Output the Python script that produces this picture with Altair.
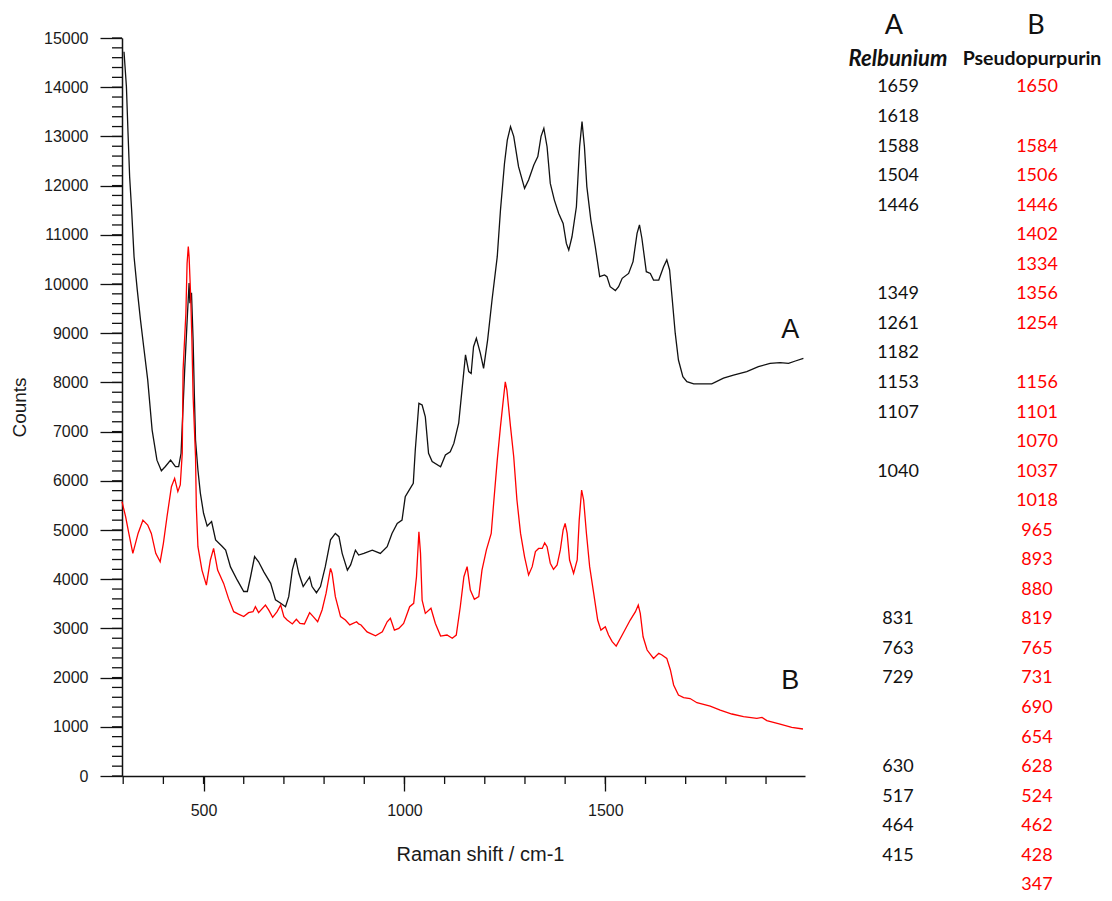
import altair as alt
import pandas as pd

# ---- spectrum A (Relbunium, black) ----
a_shift = [302, 308, 312, 316, 321, 327, 335, 343, 351, 361, 372, 384, 395, 405, 418, 430, 438, 444, 453, 460,
           464, 466, 470, 474, 477, 480, 486, 492, 500, 509, 520, 530, 546, 555, 567, 584, 600, 609, 617, 627,
           637, 650, 667, 679, 692, 704, 712, 721, 729, 737, 748, 764, 770, 781, 791, 803, 816, 828, 837, 845,
           858, 866, 878, 886, 899, 920, 940, 957, 969, 982, 994, 1002, 1011, 1022, 1027, 1036, 1044, 1052, 1060, 1069,
           1090, 1102, 1114, 1123, 1135, 1144, 1152, 1160, 1166, 1172, 1179, 1189, 1197, 1207, 1218, 1231, 1239, 1249, 1256, 1264,
           1272, 1284, 1299, 1309, 1322, 1332, 1340, 1347, 1355, 1363, 1373, 1384, 1395, 1403, 1409, 1417, 1428, 1436, 1442, 1448,
           1454, 1464, 1475, 1486, 1498, 1504, 1512, 1525, 1533, 1542, 1558, 1569, 1579, 1585, 1591, 1602, 1612, 1620, 1633, 1645,
           1653, 1660, 1666, 1674, 1682, 1693, 1703, 1720, 1765, 1794, 1819, 1852, 1881, 1910, 1935, 1956, 1973, 1993]
a_counts = [14720, 14010, 13070, 12180, 11500, 10555, 9880, 9270, 8725, 8050, 7030, 6420, 6205, 6290, 6420, 6290, 6290, 6560, 8250, 9400,
            10020, 9610, 9820, 8860, 7780, 6830, 6220, 5750, 5340, 5080, 5170, 4800, 4670, 4590, 4250, 3980, 3750, 3750, 4050, 4460,
            4355, 4150, 3915, 3580, 3510, 3440, 3645, 4190, 4430, 4120, 3850, 4045, 3850, 3725, 3850, 4255, 4800, 4930, 4865, 4525,
            4185, 4290, 4590, 4490, 4525, 4590, 4525, 4660, 4930, 5135, 5200, 5675, 5800, 5950, 6625, 7575, 7540, 7300, 6560, 6390,
            6285, 6525, 6590, 6760, 7170, 7910, 8560, 8220, 8180, 8725, 8895, 8590, 8285, 8860, 9675, 10555, 11500, 12450, 12925, 13200,
            13000, 12385, 11945, 12115, 12420, 12590, 13000, 13165, 12790, 12045, 11710, 11435, 11230, 10825, 10690, 10960, 11570, 12790, 13300, 12790,
            11980, 11300, 10760, 10150, 10185, 10150, 9945, 9865, 9945, 10115, 10215, 10455, 11030, 11200, 10930, 10250, 10215, 10080, 10080, 10350,
            10490, 10285, 9740, 9000, 8455, 8115, 8015, 7970, 7970, 8085, 8150, 8220, 8320, 8385, 8400, 8385, 8435, 8490]

# ---- spectrum B (Pseudopurpurin, red) ----
b_shift = [297, 306, 314, 324, 337, 349, 361, 370, 381, 392, 400, 409, 420, 428, 436, 442, 447, 449, 456, 459,
           462, 464, 468, 471, 474, 480, 482, 486, 496, 507, 517, 525, 535, 550, 562, 575, 587, 600, 612, 623,
           629, 637, 654, 662, 672, 683, 692, 700, 708, 721, 731, 740, 751, 764, 773, 784, 795, 805, 816, 820,
           828, 841, 853, 864, 881, 886, 892, 907, 928, 945, 957, 965, 975, 986, 998, 1013, 1023, 1030, 1036, 1040,
           1044, 1052, 1066, 1077, 1090, 1106, 1119, 1129, 1139, 1148, 1156, 1164, 1174, 1185, 1193, 1204, 1216, 1222, 1231, 1239,
           1246, 1251, 1255, 1264, 1272, 1280, 1289, 1299, 1309, 1318, 1326, 1334, 1343, 1349, 1355, 1363, 1371, 1380, 1388, 1395,
           1400, 1405, 1411, 1421, 1430, 1435, 1441, 1446, 1453, 1461, 1471, 1481, 1489, 1500, 1508, 1517, 1527, 1542, 1562, 1575,
           1582, 1587, 1594, 1604, 1620, 1633, 1641, 1653, 1662, 1670, 1682, 1695, 1711, 1728, 1761, 1786, 1815, 1844, 1877, 1890,
           1902, 1935, 1964, 1992]
b_counts = [5575, 5270, 4930, 4525, 4930, 5200, 5100, 4930, 4525, 4355, 4730, 5270, 5880, 6050, 5780, 5915, 6560, 8250, 9405, 10420,
            10760, 10555, 9740, 8860, 7710, 6490, 5475, 4660, 4185, 3880, 4390, 4625, 4185, 3915, 3610, 3340, 3290, 3240, 3320, 3340,
            3440, 3320, 3475, 3375, 3225, 3340, 3475, 3240, 3170, 3090, 3185, 3100, 3090, 3320, 3240, 3135, 3375, 3715, 4220, 4120,
            3645, 3240, 3170, 3070, 3135, 3090, 3070, 2930, 2850, 2930, 3135, 3205, 2965, 3000, 3100, 3440, 3510, 4050, 4965, 4525,
            3575, 3305, 3410, 3100, 2845, 2865, 2800, 2865, 3440, 4050, 4255, 3780, 3590, 3645, 4185, 4595, 4930, 5540, 6420, 7100,
            7640, 8010, 7845, 7100, 6490, 5610, 4930, 4455, 4085, 4255, 4560, 4625, 4625, 4740, 4660, 4325, 4200, 4290, 4595, 5000,
            5135, 4930, 4390, 4120, 4390, 5200, 5810, 5610, 4930, 4255, 3715, 3170, 2965, 3035, 2865, 2730, 2640, 2865, 3170, 3340,
            3475, 3305, 2830, 2560, 2390, 2495, 2460, 2390, 2155, 1850, 1645, 1595, 1575, 1490, 1420, 1340, 1260, 1205, 1170, 1190,
            1125, 1055, 990, 955]

# ---- peak table ----
peaks_a = ["1659", "1618", "1588", "1504", "1446", "", "", "1349", "1261", "1182", "1153", "1107", "", "1040",
           "", "", "", "", "831", "763", "729", "", "", "630", "517", "464", "415", ""]
peaks_b = ["1650", "", "1584", "1506", "1446", "1402", "1334", "1356", "1254", "", "1156", "1101", "1070", "1037",
           "1018", "965", "893", "880", "819", "765", "731", "690", "654", "628", "524", "462", "428", "347"]
table_heads = ["A", "B"]
table_subheads = ["Relbunium", "Pseudopurpurin"]

# ---- curve labels ----
curve_labels = ["A", "B"]
label_shift = [1960, 1960]
label_counts = [9065, 1930]

# ---- axes ticks ----
x_major = [500, 1000, 1500]
x_minor = list(range(300, 2000, 100))
y_major = list(range(0, 15001, 1000))
y_minor = list(range(0, 15001, 200))

X_DOMAIN = [297, 1997]
Y_DOMAIN = [0, 15000]
W, H = 683, 738
AX_FONT = "Liberation Sans"
TB_FONT = "Lato"
INK = "#1a1a1a"

spec_df = pd.concat([
    pd.DataFrame({"series": "A", "shift": a_shift, "counts": a_counts}),
    pd.DataFrame({"series": "B", "shift": b_shift, "counts": b_counts}),
], ignore_index=True)

xs = alt.Scale(domain=X_DOMAIN, nice=False, zero=False)
ys = alt.Scale(domain=Y_DOMAIN, nice=False, zero=False)

lines = alt.Chart(spec_df).mark_line(strokeWidth=1.3).encode(
    x=alt.X("shift:Q", scale=xs, axis=alt.Axis(
        orient="bottom", values=x_major, tickSize=15, labelPadding=11, grid=False, format="d",
        title="Raman shift / cm-1", titlePadding=26, titleX=358, titleFontSize=20)),
    y=alt.Y("counts:Q", scale=ys, axis=alt.Axis(
        orient="left", values=y_major, tickSize=22, labelPadding=12, grid=False, format="d",
        title="Counts", titlePadding=14)),
    color=alt.Color("series:N", scale=alt.Scale(domain=["A", "B"], range=["#111111", "#ff0000"]), legend=None),
)

# minor ticks drawn as short rules just outside the axes
minor_x = alt.Chart(pd.DataFrame({"v": x_minor})).mark_rule(color="#111111", strokeWidth=1.3).encode(
    x=alt.X("v:Q", scale=xs, axis=None),
    y=alt.value(H), y2=alt.value(H + 8),
)
minor_y = alt.Chart(pd.DataFrame({"v": y_minor})).mark_rule(color="#111111", strokeWidth=1.3).encode(
    y=alt.Y("v:Q", scale=ys, axis=None),
    x=alt.value(0), x2=alt.value(-10),
)

lab_df = pd.DataFrame({"t": curve_labels, "shift": label_shift, "counts": label_counts})
curve_text = alt.Chart(lab_df).mark_text(font=AX_FONT, fontSize=27, color="#111111",
                                          align="center", baseline="middle").encode(
    x=alt.X("shift:Q", scale=xs, axis=None),
    y=alt.Y("counts:Q", scale=ys, axis=None),
    text="t:N",
)

table_df = pd.DataFrame({"row": list(range(len(peaks_a))), "a": peaks_a, "b": peaks_b})
row_scale = alt.Scale(domain=[-1.675, 23.30], reverse=True, nice=False, zero=False)

col_a = alt.Chart(table_df).mark_text(font=TB_FONT, fontSize=18, color="#111111",
                                       align="center", baseline="middle").encode(
    x=alt.value(776),
    y=alt.Y("row:Q", scale=row_scale, axis=None),
    text="a:N",
)
col_b = alt.Chart(table_df).mark_text(font=TB_FONT, fontSize=18, color="#ff0000",
                                       align="center", baseline="middle").encode(
    x=alt.value(915),
    y=alt.Y("row:Q", scale=row_scale, axis=None),
    text="b:N",
)

head_a = alt.Chart(pd.DataFrame({"t": [table_heads[0]]})).mark_text(
    font=TB_FONT, fontSize=27, color="#111111", align="center", baseline="middle").encode(
    x=alt.value(772), y=alt.value(-12), text="t:N")
head_b = alt.Chart(pd.DataFrame({"t": [table_heads[1]]})).mark_text(
    font=TB_FONT, fontSize=27, color="#111111", align="center", baseline="middle").encode(
    x=alt.value(914), y=alt.value(-12), text="t:N")
sub_a = alt.Chart(pd.DataFrame({"t": [table_subheads[0]]})).mark_text(
    font=TB_FONT, fontSize=22, fontWeight="bold", fontStyle="italic", color="#111111",
    align="center", baseline="middle").encode(
    x=alt.value(776), y=alt.value(21), text="t:N")
sub_b = alt.Chart(pd.DataFrame({"t": [table_subheads[1]]})).mark_text(
    font=TB_FONT, fontSize=19.5, fontWeight="bold", color="#111111",
    align="center", baseline="middle").encode(
    x=alt.value(910), y=alt.value(21), text="t:N")

chart = alt.layer(
    lines, minor_x, minor_y, curve_text, col_a, col_b, head_a, head_b, sub_a, sub_b
).resolve_scale(
    x="independent", y="independent"
).resolve_axis(
    x="independent", y="independent"
).properties(
    width=W, height=H,
    padding={"left": 114, "top": 30, "right": 299, "bottom": 117},
    autosize=alt.AutoSizeParams(type="none"),
).configure_view(
    stroke=None
).configure_axis(
    labelFont=AX_FONT, labelFontSize=16, labelColor=INK,
    titleFont=AX_FONT, titleFontSize=19, titleFontWeight="normal", titleColor=INK,
    domainColor="#111111", domainWidth=1.5, tickColor="#111111", tickWidth=1.3,
)

chart.save("out.html", embed_options={"renderer": "svg", "actions": False})
